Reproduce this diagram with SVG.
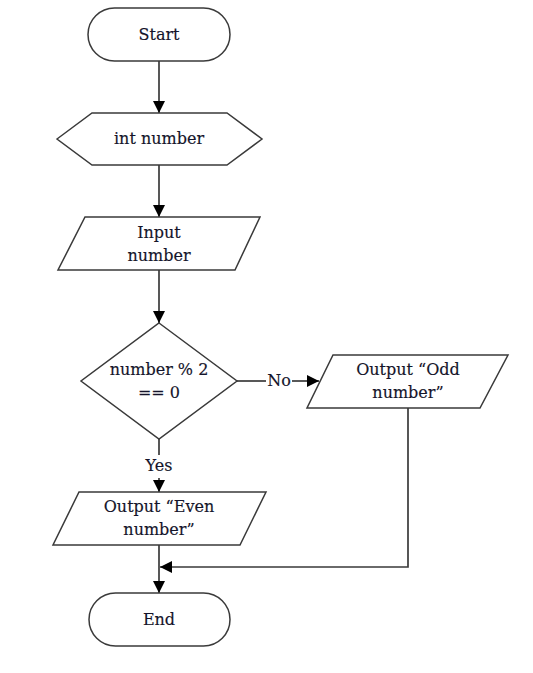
<svg xmlns="http://www.w3.org/2000/svg" width="533" height="673" viewBox="0 0 533 673">
  <style>
    .shape { fill: #ffffff; stroke: #3a3a3a; stroke-width: 1.5; }
    .edge { fill: none; stroke: #3a3a3a; stroke-width: 1.7; }
    .label { font-family: "DejaVu Serif", "Liberation Serif", serif; font-size: 16px; fill: #14142a; stroke: #14142a; stroke-width: 0.15; text-anchor: middle; }
  </style>
  <defs>
    <marker id="arrow" viewBox="0 0 10 10" refX="10" refY="5" markerWidth="12" markerHeight="12" markerUnits="userSpaceOnUse" orient="auto">
      <path d="M0,0 L10,5 L0,10 Z" fill="#000000"/>
    </marker>
  </defs>
  <rect width="533" height="673" fill="#ffffff"/>

  <g id="connectors">
    <line class="edge" x1="159" y1="61" x2="159" y2="113" marker-end="url(#arrow)"/>
    <line class="edge" x1="159" y1="165" x2="159" y2="217" marker-end="url(#arrow)"/>
    <line class="edge" x1="159" y1="270" x2="159" y2="323" marker-end="url(#arrow)"/>
    <line class="edge" x1="237" y1="381" x2="266" y2="381"/>
    <line class="edge" x1="292" y1="381" x2="319" y2="381" marker-end="url(#arrow)"/>
    <line class="edge" x1="159" y1="439" x2="159" y2="455"/>
    <line class="edge" x1="159" y1="478" x2="159" y2="492" marker-end="url(#arrow)"/>
    <line class="edge" x1="159" y1="545" x2="159" y2="593" marker-end="url(#arrow)"/>
    <polyline class="edge" points="408,408 408,567 160,567" marker-end="url(#arrow)"/>
    <text class="label" x="279" y="386">No</text>
    <text class="label" x="159" y="471">Yes</text>
  </g>

  <g id="start">
    <rect class="shape" x="88" y="8" width="142" height="53" rx="26.5"/>
    <text class="label" x="159" y="40">Start</text>
  </g>

  <g id="declare">
    <polygon class="shape" points="57,139 92,113 227,113 262,139 227,165 92,165"/>
    <text class="label" x="159" y="144">int number</text>
  </g>

  <g id="input">
    <polygon class="shape" points="85,217 260,217 235,270 58,270"/>
    <text class="label" x="159" y="238">Input</text>
    <text class="label" x="159" y="261">number</text>
  </g>

  <g id="decision">
    <polygon class="shape" points="159,323 237,381 159,439 81,381"/>
    <text class="label" x="159" y="375">number % 2</text>
    <text class="label" x="159" y="398">== 0</text>
  </g>

  <g id="output-odd">
    <polygon class="shape" points="333,355 508,355 480,408 307,408"/>
    <text class="label" x="408" y="375">Output “Odd</text>
    <text class="label" x="408" y="398">number”</text>
  </g>

  <g id="output-even">
    <polygon class="shape" points="79,492 266,492 240,545 53,545"/>
    <text class="label" x="159" y="512">Output “Even</text>
    <text class="label" x="159" y="535">number”</text>
  </g>

  <g id="end">
    <rect class="shape" x="89" y="593" width="141" height="53" rx="26.5"/>
    <text class="label" x="159" y="625">End</text>
  </g>
</svg>
